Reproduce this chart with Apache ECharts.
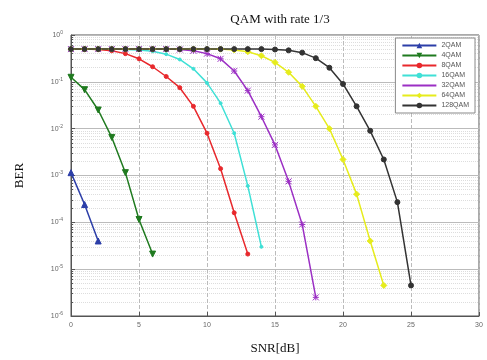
<!DOCTYPE html>
<html><head><meta charset="utf-8">
<script src="https://cdn.jsdelivr.net/npm/echarts@6/dist/echarts.min.js"></script>
<style>html,body{margin:0;padding:0;background:#fff}#c{width:487px;height:360px}</style>
</head><body><div id="c"></div>
<script>
const seriesNames = ['2QAM','4QAM','8QAM','16QAM','32QAM','64QAM','128QAM'];
const snr2 = [0,1,2];
const ber2 = [1.15e-3, 2.4e-4, 4e-5];
const snr4 = [0,1,2,3,4,5,6];
const ber4 = [1.25e-1, 6.8e-2, 2.5e-2, 6.5e-3, 1.15e-3, 1.15e-4, 2.1e-5];
const snr8 = [0,1,2,3,4,5,6,7,8,9,10,11,12,13];
const ber8 = [0.5,0.5,0.49,0.46,0.4,0.31,0.21,0.13,0.075,0.03,8e-3,1.4e-3,1.6e-4,2.1e-5];
const snr16 = [0,1,2,3,4,5,6,7,8,9,10,11,12,13,14];
const ber16 = [0.5,0.5,0.5,0.5,0.49,0.48,0.45,0.39,0.3,0.19,0.095,0.035,8e-3,6e-4,3e-5];
const snr32 = [0,1,2,3,4,5,6,7,8,9,10,11,12,13,14,15,16,17,18];
const ber32 = [0.5,0.5,0.5,0.5,0.5,0.5,0.5,0.5,0.49,0.46,0.4,0.31,0.17,0.065,0.018,4.5e-3,7.5e-4,9e-5,2.5e-6];
const snr64 = [0,1,2,3,4,5,6,7,8,9,10,11,12,13,14,15,16,17,18,19,20,21,22,23];
const ber64 = [0.5,0.5,0.5,0.5,0.5,0.5,0.5,0.5,0.5,0.5,0.5,0.5,0.48,0.44,0.36,0.26,0.16,0.08,0.03,0.01,2.2e-3,4e-4,4e-5,4.5e-6];
const snr128 = [0,1,2,3,4,5,6,7,8,9,10,11,12,13,14,15,16,17,18,19,20,21,22,23,24,25];
const ber128 = [0.5,0.5,0.5,0.5,0.5,0.5,0.5,0.5,0.5,0.5,0.5,0.5,0.5,0.5,0.5,0.49,0.47,0.42,0.32,0.2,0.09,0.03,9e-3,2.2e-3,2.7e-4,4.5e-6];
const xTicks = [0,5,10,15,20,25,30];
const colors = ['#2c3ea8','#1f7a1f','#e8282c','#3fe0d6','#9b2fc4','#e6ec1c','#333333'];
const symbols = ['triangle','triangle','circle','circle','path://M0,0L10,10M10,0L0,10M5,0L5,10M0,5L10,5','diamond','circle'];
const rot = [0,180,0,0,0,0,0];
const sizes = [6,6,4,3,6,6,5];

const xs = [snr2,snr4,snr8,snr16,snr32,snr64,snr128];
const ys = [ber2,ber4,ber8,ber16,ber32,ber64,ber128];

const chart = echarts.init(document.getElementById('c'), null, {renderer:'canvas'});
const series = seriesNames.map((n,i)=>({
  name:n, type:'line', data: xs[i].map((x,j)=>[x, ys[i][j]]),
  symbol: symbols[i], symbolSize: sizes[i], symbolRotate: rot[i],
  lineStyle:{color:colors[i], width:1.5},
  itemStyle:{color:colors[i], borderColor:colors[i]},
  showSymbol:true, animation:false
}));
chart.setOption({
  animation:false,
  backgroundColor:'#fff',
  title:{text:'QAM with rate 1/3', left:275, top:8, textAlign:'center',
    textStyle:{fontFamily:'Liberation Serif', fontSize:13, fontWeight:'normal', color:'#111'}},
  grid:{left:71, right:8, top:35, bottom:44, show:true, borderColor:'#555', borderWidth:1},
  legend:{
    orient:'vertical', right:12, top:38, itemWidth:34, itemHeight:7, itemGap:3,
    backgroundColor:'#fff', borderColor:'#888', borderWidth:1, padding:[4,6,4,6],
    textStyle:{fontFamily:'Liberation Sans', fontSize:7, color:'#555'},
    data: seriesNames
  },
  xAxis:{type:'value', min:0, max:30, interval:5,
    name:'SNR[dB]', nameLocation:'middle', nameGap:26,
    nameTextStyle:{fontFamily:'Liberation Serif', fontSize:13, color:'#111'},
    axisLine:{lineStyle:{color:'#555'}}, axisTick:{inside:true, length:4, lineStyle:{color:'#555'}},
    axisLabel:{fontSize:7, color:'#666', fontFamily:'Liberation Sans', margin:6},
    splitLine:{show:true, lineStyle:{color:'#bbb', type:'dashed', width:1}}
  },
  yAxis:{type:'log', logBase:10, min:1e-6, max:1,
    name:'BER', nameLocation:'middle', nameGap:45,
    nameTextStyle:{fontFamily:'Liberation Serif', fontSize:13, color:'#111'},
    axisLine:{lineStyle:{color:'#555'}}, axisTick:{inside:true, length:4, lineStyle:{color:'#555'}},
    axisLabel:{color:'#666', margin:8,
      formatter:function(v){const e=Math.round(Math.log10(v)); return '{b|10}{s|'+e+'}';},
      rich:{b:{fontSize:7, fontFamily:'Liberation Sans', color:'#666'}, s:{fontSize:5, fontFamily:'Liberation Sans', color:'#666', verticalAlign:'top', padding:[0,0,5,0]}}},
    splitLine:{show:true, lineStyle:{color:'#bbb', type:'solid', width:1}},
    minorTick:{show:true, splitNumber:9, length:2},
    minorSplitLine:{show:true, lineStyle:{color:'#ddd', type:'dotted', width:1}}
  },
  series: series
});
</script></body></html>
